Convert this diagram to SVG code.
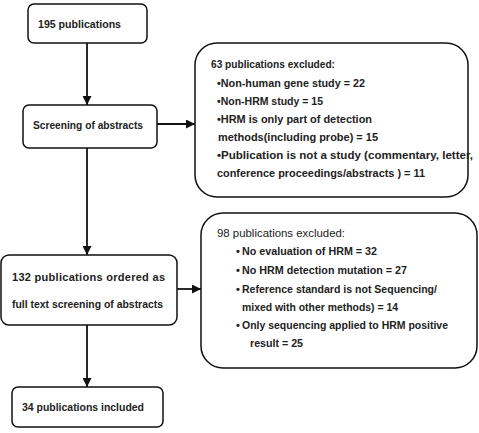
<svg xmlns="http://www.w3.org/2000/svg" width="479" height="433" viewBox="0 0 479 433">
<defs>
<style>
.box{fill:#fff;stroke:#111;stroke-width:1.5}
.t{font-family:"Liberation Sans",Arial,sans-serif;font-size:11px;font-weight:bold;fill:#222}
.n{font-weight:normal}
.c{stroke:#111;stroke-width:1.8;fill:none}
</style>
<marker id="ah" viewBox="0 0 10 10" refX="10" refY="5" markerUnits="userSpaceOnUse" markerWidth="9" markerHeight="9" orient="auto">
<path d="M0,0 L10,5 L0,10 z" fill="#111"/>
</marker>
</defs>
<rect width="479" height="433" fill="#fff"/>
<g id="connectors">
<line class="c" x1="87" y1="43" x2="87" y2="105" marker-end="url(#ah)"/>
<line class="c" x1="157" y1="124" x2="195" y2="124" marker-end="url(#ah)"/>
<line class="c" x1="87" y1="148" x2="87" y2="255" marker-end="url(#ah)"/>
<line class="c" x1="177" y1="289" x2="201" y2="289" marker-end="url(#ah)"/>
<line class="c" x1="87" y1="325" x2="87" y2="387" marker-end="url(#ah)"/>
</g>
<g id="n1">
<rect class="box" x="28" y="4" width="119" height="39" rx="6"/>
<text class="t" x="38" y="28" textLength="83" lengthAdjust="spacingAndGlyphs">195 publications</text>
</g>
<g id="n2">
<rect class="box" x="23" y="105" width="134" height="43" rx="6"/>
<text class="t" x="33" y="129" textLength="110" lengthAdjust="spacingAndGlyphs">Screening of abstracts</text>
</g>
<g id="n3">
<rect class="box" x="195" y="43" width="273" height="154" rx="22"/>
<text class="t" x="211" y="68" textLength="124" lengthAdjust="spacingAndGlyphs">63 publications excluded:</text>
<text class="t" x="217" y="87" textLength="148" lengthAdjust="spacingAndGlyphs">•Non-human gene study = 22</text>
<text class="t" x="217" y="105" textLength="106" lengthAdjust="spacingAndGlyphs">•Non-HRM study = 15</text>
<text class="t" x="217" y="123" textLength="155" lengthAdjust="spacingAndGlyphs">•HRM is only part of detection</text>
<text class="t" x="218" y="141" textLength="160" lengthAdjust="spacingAndGlyphs">methods(including probe) = 15</text>
<text class="t" x="217" y="159" textLength="256" lengthAdjust="spacingAndGlyphs">•Publication is not a study (commentary, letter,</text>
<text class="t" x="217" y="177" textLength="208" lengthAdjust="spacingAndGlyphs">conference proceedings/abstracts ) = 11</text>
</g>
<g id="n4">
<rect class="box" x="1" y="255" width="176" height="70" rx="8"/>
<text class="t" x="12" y="281" textLength="153" lengthAdjust="spacing">132 publications ordered as</text>
<text class="t" x="12" y="308" textLength="151" lengthAdjust="spacingAndGlyphs">full text screening of abstracts</text>
</g>
<g id="n5">
<rect class="box" x="12" y="387" width="151" height="40" rx="6"/>
<text class="t" x="22" y="411" textLength="122" lengthAdjust="spacingAndGlyphs">34 publications included</text>
</g>
<g id="n6">
<rect class="box" x="201" y="213" width="276" height="155" rx="22"/>
<text class="t n" x="217" y="237" textLength="128" lengthAdjust="spacingAndGlyphs">98 publications excluded:</text>
<text class="t" x="236" y="255">•</text>
<text class="t" x="242" y="255" textLength="135" lengthAdjust="spacingAndGlyphs">No evaluation of HRM = 32</text>
<text class="t" x="236" y="274">•</text>
<text class="t" x="242" y="274" textLength="165" lengthAdjust="spacingAndGlyphs">No HRM detection mutation = 27</text>
<text class="t" x="236" y="293">•</text>
<text class="t" x="242" y="293" textLength="195" lengthAdjust="spacingAndGlyphs">Reference standard is not Sequencing/</text>
<text class="t" x="242" y="311" textLength="156" lengthAdjust="spacingAndGlyphs">mixed with other methods) = 14</text>
<text class="t" x="236" y="329">•</text>
<text class="t" x="242" y="329" textLength="206" lengthAdjust="spacingAndGlyphs">Only sequencing applied to HRM positive</text>
<text class="t" x="250" y="347" textLength="53" lengthAdjust="spacingAndGlyphs">result = 25</text>
</g>
</svg>
